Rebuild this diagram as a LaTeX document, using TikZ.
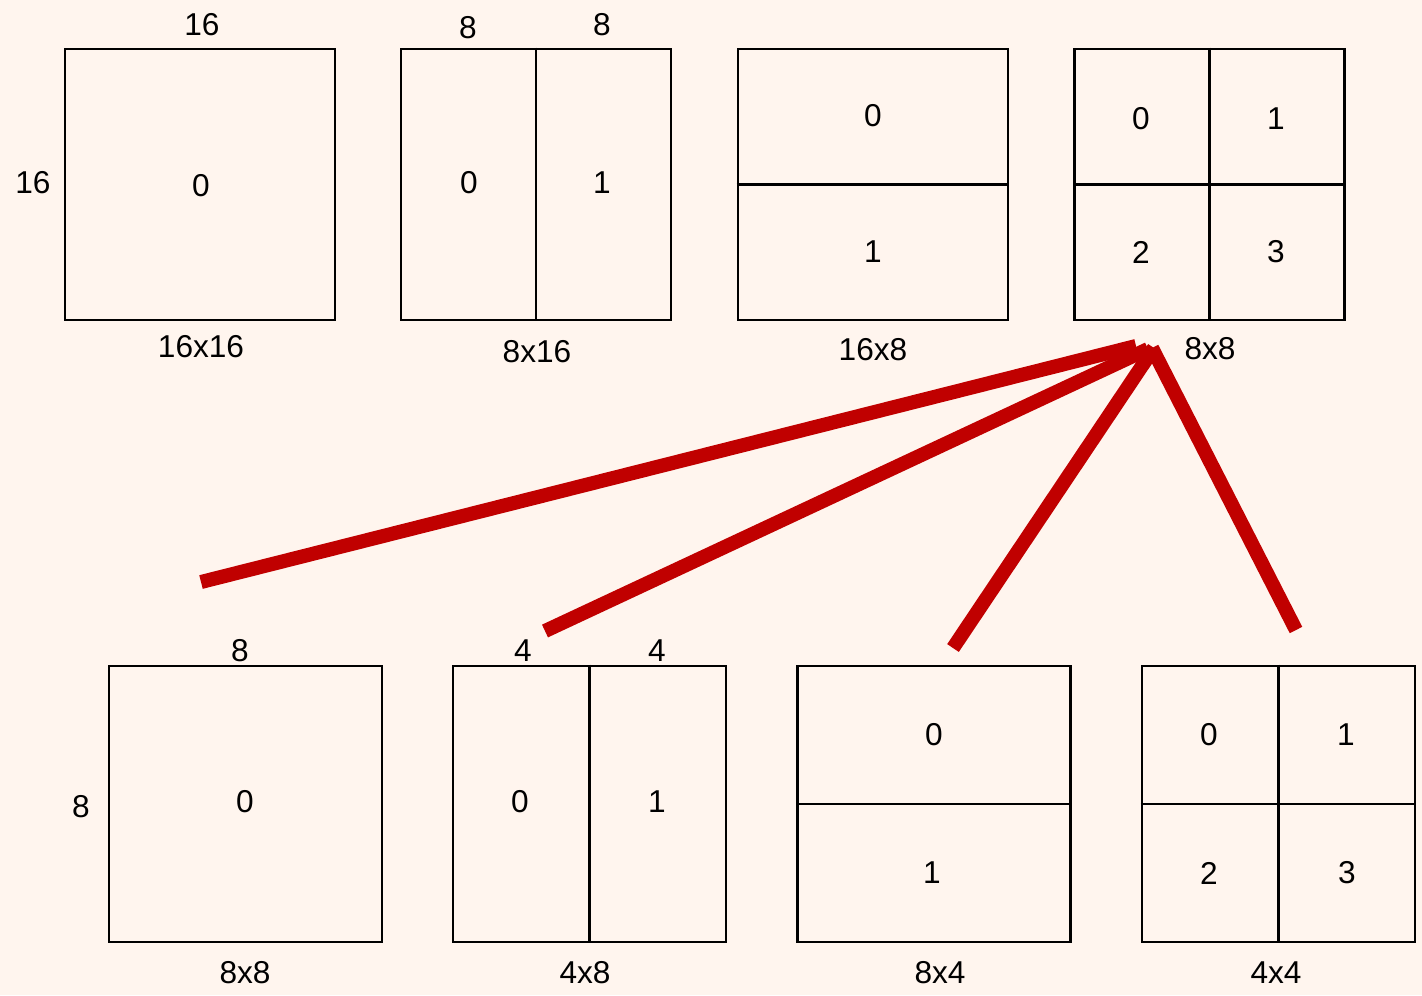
\documentclass[tikz,border=0pt]{standalone}
\usepackage{fontspec}
\setmainfont{Liberation Sans}
\definecolor{paper}{RGB}{255,245,238}
\definecolor{splitred}{RGB}{192,0,0}

\begin{document}
\begin{tikzpicture}[
  x=0.02cm, y=-0.02cm,
  bigblk/.style={draw=black, line width=1.6pt, inner sep=0pt, minimum width=5.4cm, minimum height=5.42cm},
  smallblk/.style={draw=black, line width=1.6pt, inner sep=0pt, minimum width=5.46cm, minimum height=5.52cm},
  part/.style={draw=black, line width=1.6pt},
  txt/.style={inner sep=0pt, font=\fontsize{18}{20}\selectfont},
  split/.style={draw=splitred, line width=8pt}
]
  \useasboundingbox (0,0) rectangle (1422,995);
  \fill[paper] (0,0) rectangle (1422,995);

  % Fila superior: bloques de 16x16
  \node[bigblk] (b1) at (200,184.5) {};
  \node[bigblk] (b2) at (536,184.5) {};
  \node[bigblk] (b3) at (873,184.5) {};
  \node[bigblk] (b4) at (1209.5,184.5) {};

  \draw[part] (b2.north) -- (b2.south);
  \draw[part] (b3.west) -- (b3.east);
  \draw[part] (b4.north) -- (b4.south); \draw[part] (b4.west) -- (b4.east);

  % Fila inferior: bloques de 8x8
  \node[smallblk] (s1) at (245.5,804) {};
  \node[smallblk] (s2) at (589.5,804) {};
  \node[smallblk] (s3) at (934,804) {};
  \node[smallblk] (s4) at (1278.5,804) {};

  \draw[part] (s2.north) -- (s2.south);
  \draw[part] (s3.west) -- (s3.east);
  \draw[part] (s4.north) -- (s4.south); \draw[part] (s4.west) -- (s4.east);

  % Medidas y nombres (arriba)
  \node[txt] (w1) at (202,25) {16};
  \node[txt] (h1) at (33,183) {16};
  \node[txt] (c10) at (201,186) {0};
  \node[txt] (n1) at (201,347) {16x16};

  \node[txt] (w2a) at (468,28) {8};
  \node[txt] (w2b) at (602,25) {8};
  \node[txt] (c20) at (469,183) {0};
  \node[txt] (c21) at (602,183) {1};
  \node[txt] (n2) at (537,352) {8x16};

  \node[txt] (c30) at (873,116) {0};
  \node[txt] (c31) at (873,252) {1};
  \node[txt] (n3) at (873,350) {16x8};

  \node[txt] (c40) at (1141,119) {0};
  \node[txt] (c41) at (1276,119) {1};
  \node[txt] (c42) at (1141,252) {2};
  \node[txt] (c43) at (1276,252) {3};
  \node[txt] (n4) at (1210,349) {8x8};

  % Medidas y nombres (abajo)
  \node[txt] (w5) at (240,651) {8};
  \node[txt] (h5) at (81,807) {8};
  \node[txt] (c50) at (245,802) {0};
  \node[txt] (n5) at (245,973) {8x8};

  \node[txt] (w6a) at (523,651) {4};
  \node[txt] (w6b) at (657,651) {4};
  \node[txt] (c60) at (520,802) {0};
  \node[txt] (c61) at (657,802) {1};
  \node[txt] (n6) at (585,973) {4x8};

  \node[txt] (c70) at (934,735) {0};
  \node[txt] (c71) at (932,873) {1};
  \node[txt] (n7) at (940,973) {8x4};

  \node[txt] (c80) at (1209,735) {0};
  \node[txt] (c81) at (1346,735) {1};
  \node[txt] (c82) at (1209,873) {2};
  \node[txt] (c83) at (1347,873) {3};
  \node[txt] (n8) at (1276,973) {4x4};

  % Particiones del bloque 8x8
  \coordinate (t1) at (1136,346); \coordinate (e1) at (201,582);
  \coordinate (t2) at (1148,349); \coordinate (e2) at (545,631);
  \coordinate (t3) at (1154,348); \coordinate (e3) at (953,648);
  \coordinate (t4) at (1152,348); \coordinate (e4) at (1296,630);

  \draw[split] (t1) -- (e1);
  \draw[split] (t2) -- (e2);
  \draw[split] (t3) -- (e3);
  \draw[split] (t4) -- (e4);
\end{tikzpicture}
\end{document}
